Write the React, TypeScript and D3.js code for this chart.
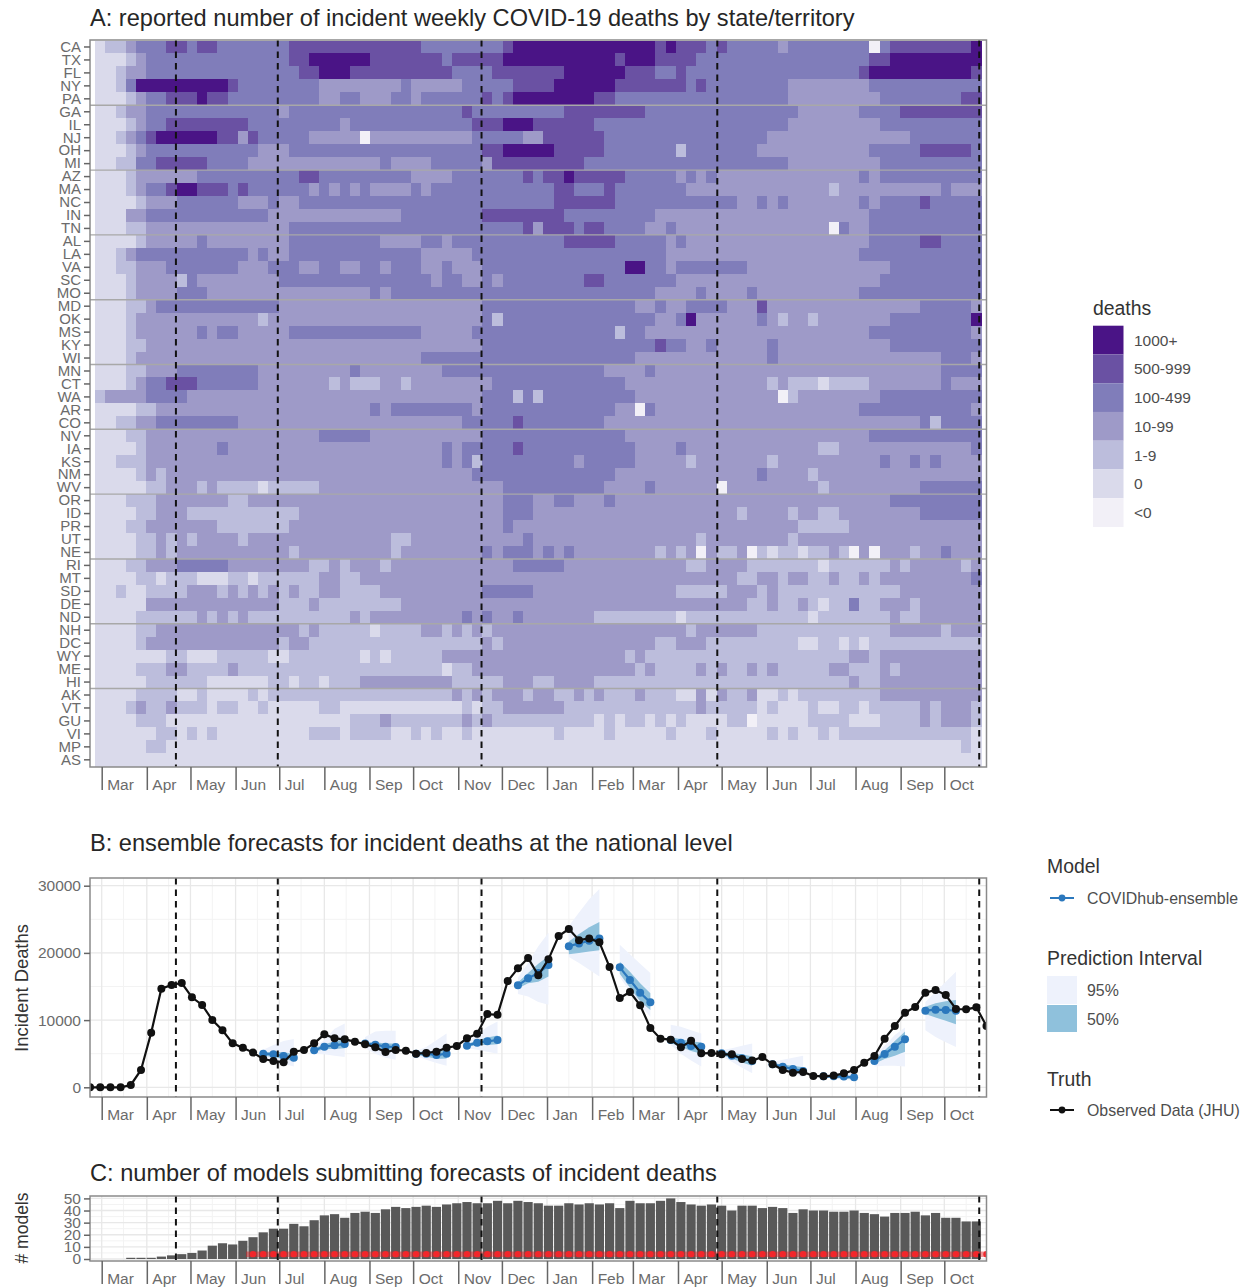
import React, { useEffect, useRef } from 'react';
import * as d3 from 'd3';

// heatmap rows, top to bottom, cut into groups of five by grey rules
const states = [
  'CA', 'TX', 'FL', 'NY', 'PA', 'GA', 'IL', 'NJ', 'OH', 'MI', 'AZ', 'MA', 'NC', 'IN', 'TN',
  'AL', 'LA', 'VA', 'SC', 'MO', 'MD', 'OK', 'MS', 'KY', 'WI', 'MN', 'CT', 'WA', 'AR', 'CO',
  'NV', 'IA', 'KS', 'NM', 'WV', 'OR', 'ID', 'PR', 'UT', 'NE', 'RI', 'MT', 'SD', 'DE', 'ND',
  'NH', 'DC', 'WY', 'ME', 'HI', 'AK', 'VT', 'GU', 'VI', 'MP', 'AS',
];

const deathLabels = ['<0', '0', '1-9', '10-99', '100-499', '500-999', '1000+'];
const deathColors = ['#f2f0f7', '#dadaeb', '#bcbddc', '#9e9ac8', '#807dba', '#6a51a3', '#4a1486'];

// per state: "level:untilWeek" runs, level indexes deathLabels
const stateRuns = [
  '1:1 2:3 3:4 4:7 5:9 4:10 5:12 4:19 5:32 4:40 5:41 6:55 5:56 6:57 5:60 4:61 5:62 4:67 3:68 4:76 0:77 4:78 5:86 6:87',
  '1:3 2:4 3:5 4:19 5:21 6:27 5:34 4:35 5:40 6:51 5:52 6:55 5:59 4:76 5:78 6:87',
  '1:2 2:3 3:5 4:20 5:22 6:25 5:35 4:39 5:46 6:52 5:55 4:57 5:58 4:75 5:76 6:86 5:87',
  '1:2 2:3 4:4 6:13 5:14 4:22 3:30 4:31 3:36 4:41 5:45 6:51 5:58 4:59 5:60 4:68 3:76 4:87',
  '1:3 2:4 3:5 4:7 5:10 6:11 5:13 4:22 3:24 4:26 3:29 4:31 3:32 4:38 5:39 4:40 5:41 6:49 5:51 4:68 3:77 4:85 5:87',
  '1:2 2:3 3:5 4:18 3:19 4:36 5:37 4:46 5:54 4:69 3:75 4:79 5:87',
  '1:3 2:4 3:5 4:7 5:15 4:24 3:25 4:37 5:40 6:43 5:49 4:68 3:77 4:87',
  '1:2 2:3 3:4 4:5 5:6 6:12 5:14 3:15 5:16 4:21 3:26 0:27 3:37 4:42 3:44 5:50 4:66 3:80 4:87',
  '1:3 2:4 3:5 4:16 3:19 4:38 5:40 6:45 5:50 4:57 2:58 4:65 3:76 4:81 5:86 4:87',
  '1:2 2:4 4:6 5:11 4:15 3:28 4:29 3:33 4:38 3:39 5:48 4:68 3:77 4:87',
  '1:3 2:4 3:10 4:20 5:22 4:31 3:35 4:42 5:43 4:44 5:46 6:47 5:52 4:57 3:58 4:59 3:60 4:61 3:75 4:76 3:77 4:87',
  '1:3 2:4 3:5 4:7 5:8 6:10 5:13 4:14 5:15 4:21 3:22 4:23 3:24 4:25 3:26 4:27 3:31 4:32 3:33 4:45 5:47 4:50 5:51 4:58 3:72 2:73 3:83 4:84 3:87',
  '1:4 2:5 3:8 4:14 3:17 4:18 3:20 4:45 5:51 4:63 3:65 4:66 3:67 4:68 3:75 4:76 3:77 4:81 5:82 4:87',
  '1:3 3:5 4:17 3:30 4:38 5:46 4:55 3:76 4:87',
  '1:3 2:5 3:19 4:42 5:43 3:44 5:47 4:48 5:50 4:54 3:56 4:57 3:72 0:73 4:74 3:76 4:87',
  '1:4 2:5 3:10 4:11 3:19 4:28 3:32 4:34 3:35 4:46 5:51 4:56 3:57 4:58 3:76 4:81 5:83 4:87',
  '1:2 2:3 3:4 4:15 3:16 4:17 3:19 4:32 3:37 4:56 3:75 4:87',
  '1:2 2:4 3:7 4:14 3:17 4:20 3:22 4:24 3:26 4:28 3:29 4:32 3:34 4:35 3:38 4:52 6:54 4:56 3:57 4:64 3:78 4:87',
  '1:3 2:4 3:8 2:9 4:10 3:18 4:33 3:34 4:36 3:38 4:39 3:40 4:48 5:50 4:57 3:77 4:87',
  '1:3 2:4 3:8 4:11 3:27 4:28 3:29 4:55 3:59 4:60 3:64 4:65 3:75 4:87',
  '1:3 2:5 3:6 4:18 3:38 4:53 3:55 4:56 3:58 4:62 3:65 5:66 3:81 4:86 3:87',
  '1:3 2:4 3:16 2:17 3:38 4:39 2:40 4:55 3:57 4:58 6:59 3:65 4:66 3:67 2:68 3:70 2:71 3:78 4:86 6:87',
  '1:3 2:4 3:10 4:11 3:12 4:14 3:19 4:32 3:37 4:51 2:52 4:54 3:76 4:86 3:87',
  '1:3 2:5 3:38 4:55 5:56 4:58 3:60 4:61 3:66 4:67 3:78 4:87',
  '1:3 2:4 3:32 4:53 3:66 4:67 3:83 4:86 3:87',
  '1:3 2:5 3:8 4:16 3:25 4:26 3:34 4:50 3:54 4:55 3:83 4:87',
  '1:3 2:4 3:5 4:7 5:10 4:16 3:23 2:24 3:25 2:28 3:30 2:31 3:39 4:52 3:66 2:67 3:68 2:71 1:72 2:76 3:83 4:84 3:87',
  '2:1 3:5 4:9 3:38 4:41 2:42 4:43 2:44 4:53 3:67 0:68 2:69 3:77 4:87',
  '1:4 2:6 3:27 4:28 3:29 4:37 3:38 4:51 3:53 0:54 4:55 3:75 4:86 3:87',
  '1:2 2:4 3:6 4:14 3:36 4:41 5:42 4:50 3:81 4:82 2:83 4:87',
  '1:3 2:5 3:22 4:27 3:38 4:52 3:76 4:87',
  '1:4 2:5 3:12 4:13 3:34 4:35 3:36 4:41 5:42 4:53 3:57 4:58 3:71 2:73 3:86 4:87',
  '1:2 2:5 3:34 4:35 3:36 4:37 2:38 4:47 3:48 4:53 3:58 2:59 3:66 2:67 3:77 4:78 3:80 4:81 3:82 4:83 3:87',
  '1:4 2:5 3:6 2:7 3:37 4:51 3:65 4:66 3:70 2:71 3:87',
  '1:5 2:7 3:10 2:11 3:12 2:16 1:17 2:22 3:40 4:50 3:54 4:55 3:61 0:62 3:71 2:72 3:81 4:87',
  '1:3 2:6 3:13 2:15 3:40 4:43 3:45 4:47 3:50 4:51 3:78 4:87',
  '1:4 2:6 3:9 2:20 3:40 4:43 3:63 2:64 3:68 2:69 3:71 2:73 3:81 4:87',
  '1:3 2:5 3:12 2:19 3:40 4:41 3:69 2:74 3:87',
  '1:4 2:6 3:7 2:8 3:9 2:10 3:14 2:15 3:29 2:31 3:42 4:43 3:59 2:60 3:68 2:69 3:87',
  '1:4 2:6 3:7 2:8 3:19 2:20 3:29 2:30 3:38 4:39 3:40 4:43 3:44 4:45 3:46 4:47 3:55 2:56 3:57 2:58 3:59 0:60 3:61 2:63 3:64 0:65 2:66 1:67 2:69 1:70 2:72 3:73 2:74 0:75 3:76 0:77 3:80 2:81 3:83 4:84 3:87',
  '1:3 2:5 3:8 4:13 3:21 2:23 3:24 2:25 3:28 2:29 3:41 4:46 3:58 2:60 3:64 2:71 1:72 2:78 3:79 2:80 3:85 2:86 3:87',
  '1:4 2:6 1:7 2:10 1:13 2:15 1:16 2:22 3:24 2:26 3:63 2:65 3:67 2:68 3:70 2:72 3:73 2:75 3:76 2:77 3:86 4:87',
  '1:2 2:3 1:5 2:9 3:12 2:13 3:14 2:15 3:16 2:17 3:18 2:19 3:20 2:22 3:24 2:28 3:38 4:43 3:57 2:62 3:65 2:66 3:67 2:79 3:87',
  '1:5 3:18 2:21 3:22 2:30 3:64 2:66 3:67 2:69 3:70 2:71 1:72 2:74 4:75 2:77 3:80 2:81 3:87',
  '1:4 2:10 3:11 2:12 3:13 2:14 3:15 2:25 3:26 2:27 3:36 4:37 3:38 4:39 3:41 4:42 3:49 2:57 1:58 2:70 1:71 2:78 3:79 2:81 3:87',
  '1:4 2:6 3:20 2:21 3:22 2:27 1:28 2:32 3:34 2:35 3:36 2:37 3:38 2:39 3:58 2:59 3:65 2:78 3:83 2:84 3:87',
  '1:4 2:5 3:18 2:19 3:21 2:38 3:39 2:40 3:55 2:57 3:60 2:69 1:71 2:73 1:74 2:75 1:76 2:87',
  '1:7 2:9 1:12 2:17 1:19 2:26 1:27 2:28 1:29 2:34 3:52 2:53 3:54 2:74 3:76 2:77 3:87',
  '1:4 2:7 3:9 2:13 3:14 2:34 1:35 2:37 3:53 2:54 3:55 2:59 3:60 2:61 3:62 2:64 3:65 2:66 3:67 2:72 3:74 2:77 3:78 2:79 3:87',
  '1:5 2:11 1:17 2:19 1:20 2:22 1:23 2:26 3:35 2:40 3:43 2:45 3:49 2:74 3:75 2:77 3:87',
  '1:4 2:8 1:10 2:11 1:15 2:16 1:17 2:35 3:36 2:37 3:38 2:39 3:42 2:43 3:45 2:47 3:48 2:49 3:50 2:53 3:54 2:57 1:59 3:60 1:61 3:62 2:64 3:65 1:67 2:68 1:69 2:77 3:87',
  '1:3 2:4 3:5 2:7 3:8 2:11 1:12 2:14 1:16 2:17 1:22 2:24 1:36 2:37 1:38 2:40 3:46 2:59 3:60 2:65 1:66 2:67 1:70 2:71 1:73 2:75 1:76 2:81 3:82 2:83 3:86 2:87',
  '1:4 2:7 1:25 2:28 3:29 2:36 3:37 2:38 3:39 2:49 1:50 2:51 1:52 2:54 1:55 2:56 1:57 2:58 1:62 2:64 0:65 1:70 2:74 1:77 2:81 3:82 2:83 3:86 2:87',
  '1:6 2:8 1:9 2:10 1:11 2:12 1:21 2:24 1:25 2:29 1:31 2:32 1:33 2:34 1:36 2:37 1:45 2:46 1:50 2:51 1:56 2:57 1:60 2:61 1:66 2:67 1:68 2:69 1:71 2:72 1:73 2:86 1:87',
  '1:5 2:7 1:85 2:86 1:87',
  '1:87',
];

// national incident deaths per week, first value is the week ending 2020-02-22
const observedDeaths = [
  0, 0, 0, 0, 350, 2580, 8130, 14680, 15220, 15520, 13390, 12250, 10010, 8480, 6540, 5900, 5160, 4210,
  3920, 3720, 5300, 5550, 6540, 7880, 7290, 7140, 6790, 6400, 5950, 5250, 5550, 5450, 5000, 5100, 5300,
  5900, 6150, 7290, 7980, 10900, 10800, 15800, 17700, 19240, 16660, 19040, 22500, 23550, 21900, 22160,
  21570, 17900, 13290, 14180, 12200, 8830, 7240, 7090, 5950, 6940, 5060, 5100, 4910, 4910, 4210, 3970,
  4510, 3420, 2580, 2180, 2280, 1690, 1640, 1740, 2080, 2580, 3670, 4660, 7240, 9120, 11100, 11950,
  14080, 14480, 13730, 11650, 11600, 11900, 9120,
];

// week index of the first target in each 4-week forecast
const forecastStarts = [17, 22, 27, 32, 37, 42, 47, 52, 57, 62, 67, 72, 77, 82];
const forecastMean = [
  [5000, 4900, 4660, 4400], [5500, 6050, 6250, 6450], [6500, 6350, 6050, 6000], [5000, 5000, 4800, 5000],
  [6200, 6640, 6840, 7040], [15170, 16210, 17000, 18200], [21000, 21400, 21800, 22160], [17850, 15960, 14080, 12640],
  [7040, 6640, 6150, 6050], [5060, 4710, 4310, 3920], [3420, 3070, 2730, 2430], [1640, 1640, 1590, 1490],
  [3920, 4960, 6050, 7140], [11400, 11550, 11500, 11400],
];
const forecastHi95 = [
  [5600, 6300, 6900, 7200], [6000, 7000, 8700, 9500], [7500, 8300, 8400, 8400], [5400, 6000, 7000, 8000],
  [6700, 7800, 9000, 9800], [16300, 18500, 21000, 23000], [24000, 26000, 28000, 29500], [21200, 19800, 18400, 17000],
  [9300, 9000, 8500, 8000], [5500, 5800, 6200, 6500], [3800, 4100, 4400, 4700], [1800, 2100, 2200, 2300],
  [4700, 6200, 7800, 8900], [12700, 14200, 15700, 17200],
];
const forecastLo95 = [
  [4400, 3900, 3500, 3100], [5000, 4900, 4700, 4500], [5800, 5000, 4400, 4100], [4700, 4100, 3600, 3200],
  [5800, 5600, 5300, 5000], [13900, 13500, 12700, 12300], [19400, 18500, 17500, 16500], [16400, 14200, 12200, 10500],
  [6300, 5000, 4000, 3100], [4600, 3800, 2900, 2100], [3100, 2500, 2000, 1500], [1500, 1300, 1100, 1000],
  [3100, 3200, 3200, 3100], [8500, 7500, 6700, 6000],
];
const forecastHi50 = [
  [5200, 5300, 5200, 5000], [5800, 6400, 6800, 7200], [6700, 6700, 6500, 6500], [5200, 5400, 5400, 5700],
  [6400, 7000, 7400, 7700], [15600, 17000, 18400, 19500], [21700, 22800, 23800, 24600], [18700, 17200, 15500, 14000],
  [7400, 7200, 6800, 6700], [5300, 5100, 4900, 4600], [3600, 3400, 3200, 3000], [1700, 1800, 1800, 1700],
  [4300, 5500, 6900, 8300], [12000, 12500, 12800, 13000],
];
const forecastLo50 = [
  [4700, 4500, 4200, 3900], [5200, 5700, 5700, 5800], [6300, 5900, 5500, 5400], [4800, 4600, 4200, 4300],
  [6000, 6300, 6300, 6400], [14700, 15500, 15700, 16500], [19800, 20000, 20200, 20400], [16900, 14800, 12800, 11500],
  [6600, 6000, 5400, 5000], [4800, 4300, 3700, 3200], [3200, 2800, 2300, 1900], [1500, 1400, 1300, 1200],
  [3500, 4200, 4700, 5300], [10900, 10400, 9900, 9400],
];

// models submitting per week, same weeks as observedDeaths
const modelCounts = [
  0, 0, 0, 0, 1, 1, 1, 2, 3, 4, 5, 7, 11, 13, 12, 15, 18, 22, 25, 25, 29, 27, 32, 36, 37, 34, 38, 39, 38,
  41, 43, 42, 43, 44, 43, 45, 46, 47, 46, 46, 48, 46, 48, 47, 46, 44, 44, 46, 45, 46, 45, 46, 42, 48, 46,
  46, 48, 50, 47, 45, 44, 45, 44, 40, 44, 44, 42, 43, 42, 38, 41, 40, 40, 39, 39, 40, 38, 37, 35, 38, 38,
  39, 36, 38, 34, 34, 31, 31, 0,
];
const ensembleFirstWeek = 16;
const ensembleMarkValue = 4;

const forecastDates = [
  new Date(2020, 3, 21), new Date(2020, 5, 30), new Date(2020, 10, 17), new Date(2021, 3, 28), new Date(2021, 9, 25),
];
const weeks = observedDeaths.map((_, i) => d3.timeWeek.offset(new Date(2020, 1, 22), i));
const months = d3.timeMonths(new Date(2020, 2, 1), new Date(2021, 10, 1));

const FONT = '"Liberation Sans", Arial, sans-serif';
const LABEL = '#6b6b6b';

const expandRuns = (runs: string) => {
  const out: number[] = [];
  runs.split(' ').forEach(r => {
    const [level, until] = r.split(':').map(Number);
    while (out.length < until) out.push(level);
  });
  return out;
};

const App = () => {
  const svgRef = useRef<SVGSVGElement>(null);

  useEffect(() => {
    if (!svgRef.current) return;
    const svg = d3.select(svgRef.current);
    svg.selectAll('*').remove();
    svg.style('font-family', FONT);

    const left = 90;
    const right = 986.5;

    // dates share one scale in all three panels
    const x = d3.scaleTime()
      .domain([new Date(2020, 2, 1), new Date(2021, 9, 1)])
      .range([101.7, 944.3]);

    const title = (text: string, y: number) =>
      svg.append('text').attr('x', left).attr('y', y)
        .attr('font-size', 23.6).attr('fill', '#262626').text(text);

    const monthAxis = (bottom: number) => {
      const g = svg.append('g').attr('transform', `translate(0,${bottom})`)
        .call(d3.axisBottom(x).tickValues(months).tickSize(23)
          .tickFormat(d3.timeFormat('%b') as any));
      g.select('.domain').remove();
      g.selectAll('line').attr('stroke', '#666').attr('stroke-width', 1.5);
      g.selectAll('text').attr('x', 5).attr('y', 23).attr('dy', 0).attr('text-anchor', 'start')
        .attr('font-size', 15.5).attr('font-family', FONT).attr('fill', LABEL);
    };

    const frame = (top: number, bottom: number) =>
      svg.append('rect').attr('x', left).attr('y', top).attr('width', right - left).attr('height', bottom - top)
        .attr('fill', 'none').attr('stroke', '#8a8a8a').attr('stroke-width', 1.5);

    const forecastLines = (top: number, bottom: number) =>
      svg.append('g').selectAll('line').data(forecastDates).join('line')
        .attr('x1', d => x(d)).attr('x2', d => x(d)).attr('y1', top).attr('y2', bottom)
        .attr('stroke', '#111').attr('stroke-width', 2).attr('stroke-dasharray', '6.5,5');

    const leftAxis = (scale: any, ticks: any[], size: number) => {
      const axis = d3.axisLeft(scale).tickValues(ticks).tickSize(6).tickPadding(3);
      if (typeof ticks[0] === 'number') axis.tickFormat(d3.format('d') as any);
      const g = svg.append('g').attr('transform', `translate(${left},0)`).call(axis as any);
      g.select('.domain').remove();
      g.selectAll('line').attr('stroke', '#666').attr('stroke-width', 1.5);
      g.selectAll('text').attr('font-size', size).attr('font-family', FONT).attr('fill', LABEL);
    };

    const grid = (y: any, major: number[], minor: number[], top: number, bottom: number) => {
      const g = svg.append('g');
      const midMonths = months.map(m => d3.timeDay.offset(m, 15));
      g.selectAll('.mx').data(midMonths).join('line').attr('class', 'mx')
        .attr('x1', d => x(d)).attr('x2', d => x(d)).attr('y1', top).attr('y2', bottom)
        .attr('stroke', '#f3f3f3').attr('stroke-width', 1);
      g.selectAll('.my').data(minor).join('line').attr('class', 'my')
        .attr('x1', left).attr('x2', right).attr('y1', d => y(d)).attr('y2', d => y(d))
        .attr('stroke', '#f3f3f3').attr('stroke-width', 1);
      g.selectAll('.Mx').data(months).join('line').attr('class', 'Mx')
        .attr('x1', d => x(d)).attr('x2', d => x(d)).attr('y1', top).attr('y2', bottom)
        .attr('stroke', '#e8e8e8').attr('stroke-width', 1.3);
      g.selectAll('.My').data(major).join('line').attr('class', 'My')
        .attr('x1', left).attr('x2', right).attr('y1', d => y(d)).attr('y2', d => y(d))
        .attr('stroke', '#e8e8e8').attr('stroke-width', 1.3);
    };

    const clip = (id: string, top: number, bottom: number) =>
      svg.append('clipPath').attr('id', id).append('rect')
        .attr('x', left).attr('y', top).attr('width', right - left).attr('height', bottom - top);

    /* ---- A: heatmap ---- */
    title('A: reported number of incident weekly COVID-19 deaths by state/territory', 26);
    const yA = d3.scaleBand().domain(states).range([40.5, 766.3]);
    const fill = d3.scaleOrdinal<number, string>().domain(d3.range(deathColors.length)).range(deathColors);
    const cells = states.flatMap((state, s) =>
      expandRuns(stateRuns[s]).map((level, w) => ({ state, week: weeks[w + 1], level })));
    svg.append('g').attr('shape-rendering', 'crispEdges').selectAll('rect').data(cells).join('rect')
      .attr('x', d => x(d3.timeHour.offset(d.week, -84)))
      .attr('width', d => x(d3.timeHour.offset(d.week, 84)) - x(d3.timeHour.offset(d.week, -84)) + 0.5)
      .attr('y', d => yA(d.state) as number)
      .attr('height', yA.bandwidth() + 0.5)
      .attr('fill', d => fill(d.level));
    // grey rule every five states
    const groupStarts = states.filter((_, i) => i > 0 && i % 5 === 0 && i < 55);
    svg.append('g').selectAll('line').data(groupStarts).join('line')
      .attr('x1', left).attr('x2', right)
      .attr('y1', d => yA(d) as number).attr('y2', d => yA(d) as number)
      .attr('stroke', '#a8a8a8').attr('stroke-width', 1.4);
    forecastLines(40, 767);
    frame(40, 767);
    leftAxis(yA, states, 15);
    monthAxis(767);

    /* ---- B: ensemble forecasts ---- */
    title('B: ensemble forecasts for incident deaths at the national level', 851);
    const yB = d3.scaleLinear().domain([0, 30000]).range([1087.3, 885.7]);
    grid(yB, [0, 10000, 20000, 30000], [5000, 15000, 25000], 878, 1097);
    clip('clipB', 878, 1097);
    const plotB = svg.append('g').attr('clip-path', 'url(#clipB)');
    const ribbon = (hi: number[][], lo: number[][], color: string) => {
      forecastStarts.forEach((start, f) => {
        const area = d3.area<number>()
          .x(d => x(weeks[d]))
          .y0((_, i) => yB(lo[f][i]))
          .y1((_, i) => yB(hi[f][i]));
        plotB.append('path').attr('d', area(d3.range(start, start + 4)) as string).attr('fill', color);
      });
    };
    ribbon(forecastHi95, forecastLo95, '#eef2fc');
    ribbon(forecastHi50, forecastLo50, '#8fc1dc');
    const lineB = d3.line<[Date, number]>().x(d => x(d[0])).y(d => yB(d[1]));
    forecastStarts.forEach((start, f) => {
      const pts = forecastMean[f].map((v, i) => [weeks[start + i], v] as [Date, number]);
      plotB.append('path').attr('d', lineB(pts) as string).attr('fill', 'none')
        .attr('stroke', '#2b78bd').attr('stroke-width', 2.2);
      plotB.append('g').selectAll('circle').data(pts).join('circle')
        .attr('cx', d => x(d[0])).attr('cy', d => yB(d[1])).attr('r', 4).attr('fill', '#2b78bd');
    });
    const truth = observedDeaths.map((v, i) => [weeks[i], v] as [Date, number]);
    plotB.append('path').attr('d', lineB(truth) as string).attr('fill', 'none')
      .attr('stroke', '#111').attr('stroke-width', 2.2);
    plotB.append('g').selectAll('circle').data(truth).join('circle')
      .attr('cx', d => x(d[0])).attr('cy', d => yB(d[1])).attr('r', 4).attr('fill', '#111');
    forecastLines(878, 1097);
    frame(878, 1097);
    leftAxis(yB, [0, 10000, 20000, 30000], 15.5);
    monthAxis(1097);
    svg.append('text').attr('transform', 'translate(28,988) rotate(-90)').attr('text-anchor', 'middle')
      .attr('font-size', 18.4).attr('fill', '#333').text('Incident Deaths');

    /* ---- C: model counts ---- */
    title('C: number of models submitting forecasts of incident deaths', 1181);
    const yC = d3.scaleLinear().domain([0, 50]).range([1259, 1198.4]);
    grid(yC, [0, 10, 20, 30, 40, 50], [5, 15, 25, 35, 45], 1196, 1261);
    clip('clipC', 1196, 1261);
    const plotC = svg.append('g').attr('clip-path', 'url(#clipC)');
    plotC.append('g').selectAll('rect').data(modelCounts).join('rect')
      .attr('x', (_, i) => x(weeks[i]) - 4.6).attr('width', 9.2)
      .attr('y', d => yC(d)).attr('height', d => yC(0) - yC(d))
      .attr('fill', '#595959');
    const ensembleWeeks = weeks.slice(ensembleFirstWeek);
    plotC.append('line')
      .attr('x1', x(ensembleWeeks[0]) - 7).attr('x2', right)
      .attr('y1', yC(ensembleMarkValue)).attr('y2', yC(ensembleMarkValue))
      .attr('stroke', '#e41a1c').attr('stroke-opacity', 0.45).attr('stroke-width', 5.5);
    plotC.append('g').selectAll('circle').data(ensembleWeeks).join('circle')
      .attr('cx', d => x(d)).attr('cy', yC(ensembleMarkValue)).attr('r', 3.2).attr('fill', '#f2262b');
    forecastLines(1196, 1261);
    frame(1196, 1261);
    leftAxis(yC, [0, 10, 20, 30, 40, 50], 15.5);
    monthAxis(1261);
    svg.append('text').attr('transform', 'translate(28,1228) rotate(-90)').attr('text-anchor', 'middle')
      .attr('font-size', 17.5).attr('fill', '#333').text('# models');

    /* ---- legends ---- */
    const legendTitle = (text: string, lx: number, y: number) =>
      svg.append('text').attr('x', lx).attr('y', y).attr('font-size', 19.4).attr('fill', '#333').text(text);
    const legendLabel = (text: string, lx: number, y: number, size = 15.9) =>
      svg.append('text').attr('x', lx).attr('y', y).attr('dy', '0.35em')
        .attr('font-size', size).attr('fill', '#4d4d4d').text(text);

    legendTitle('deaths', 1093, 315);
    const rowsDown = d3.range(deathColors.length - 1, -1, -1);
    const legendY = d3.scaleBand<number>().domain(rowsDown).range([325.7, 527]);
    svg.append('g').selectAll('rect').data(rowsDown).join('rect')
      .attr('x', 1093).attr('width', 30.5)
      .attr('y', d => legendY(d) as number).attr('height', legendY.bandwidth())
      .attr('fill', d => deathColors[d]);
    rowsDown.forEach(d =>
      legendLabel(deathLabels[d], 1134, (legendY(d) as number) + legendY.bandwidth() / 2, 15.5));

    legendTitle('Model', 1047, 873);
    svg.append('line').attr('x1', 1050).attr('x2', 1074).attr('y1', 898).attr('y2', 898)
      .attr('stroke', '#2b78bd').attr('stroke-width', 2);
    svg.append('circle').attr('cx', 1062).attr('cy', 898).attr('r', 3.4).attr('fill', '#2b78bd');
    legendLabel('COVIDhub-ensemble', 1087, 898);

    legendTitle('Prediction Interval', 1047, 965);
    svg.append('rect').attr('x', 1047).attr('y', 976).attr('width', 30).attr('height', 28).attr('fill', '#eef2fc');
    svg.append('rect').attr('x', 1047).attr('y', 1005).attr('width', 30).attr('height', 27).attr('fill', '#8fc1dc');
    legendLabel('95%', 1087, 990);
    legendLabel('50%', 1087, 1019);

    legendTitle('Truth', 1047, 1086);
    svg.append('line').attr('x1', 1050).attr('x2', 1074).attr('y1', 1110).attr('y2', 1110)
      .attr('stroke', '#111').attr('stroke-width', 2);
    svg.append('circle').attr('cx', 1062).attr('cy', 1110).attr('r', 3.4).attr('fill', '#111');
    legendLabel('Observed Data (JHU)', 1087, 1110);
  }, []);

  return (
    <svg
      ref={svgRef}
      width={1247}
      height={1287}
      style={{ position: 'absolute', left: 0, top: 0, background: '#fff' }}
    />
  );
};

export default App;
